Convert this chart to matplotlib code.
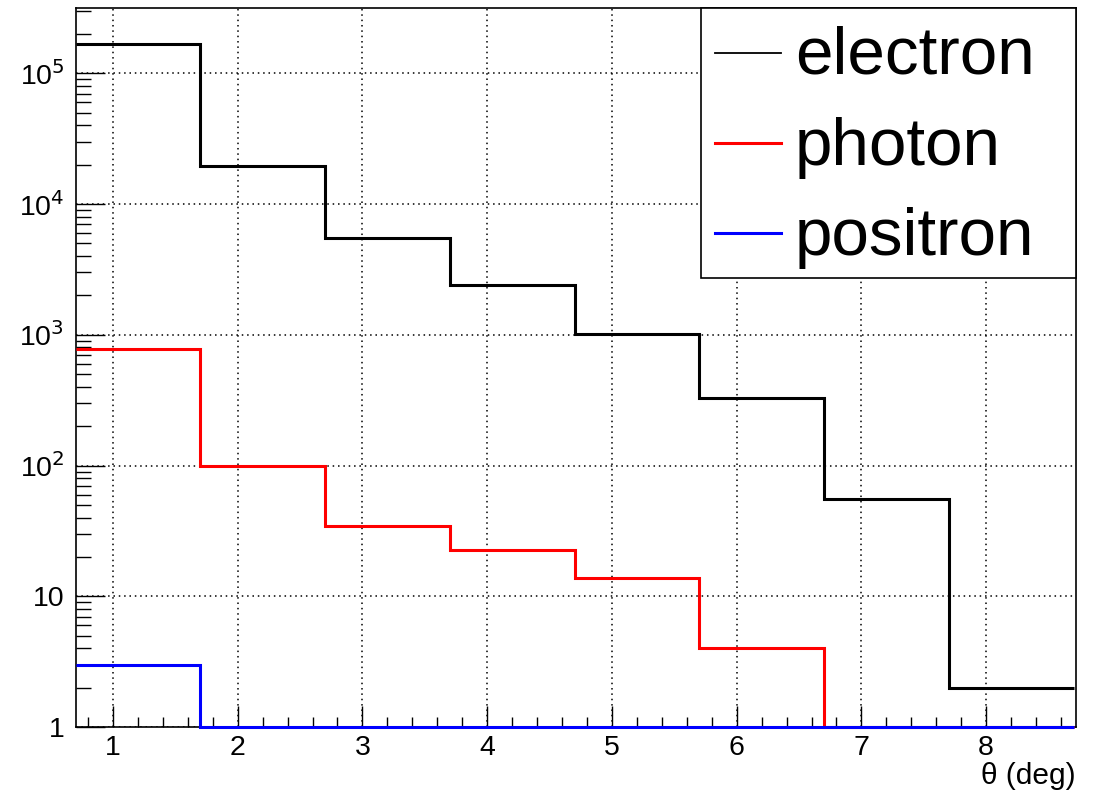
import numpy as np
import matplotlib
matplotlib.use("Agg")
import matplotlib.pyplot as plt
from matplotlib.patches import Rectangle
from matplotlib.lines import Line2D
from matplotlib.ticker import FixedLocator, MultipleLocator, LogLocator, NullFormatter, FuncFormatter

plt.rcParams['font.family'] = ['Liberation Sans', 'DejaVu Sans']
plt.rcParams['mathtext.default'] = 'regular'

bin_edges = [0.7, 1.7, 2.7, 3.7, 4.7, 5.7, 6.7, 7.7, 8.7]
electron = [1.69e5, 1.95e4, 5.55e3, 2.42e3, 1.02e3, 330, 55.5, 2]
photon = [784, 100, 34.6, 22.7, 13.8, 4, 0, 0]
positron = [3, 0, 0, 0, 0, 0, 0, 0]
series_names = ["electron", "photon", "positron"]
series_colors = ["black", "#ff0000", "#0000ff"]
x_label = "θ (deg)"

ymin, ymax = 1.0, 10**5.5

W, H = 1102, 793
fig = plt.figure(figsize=(W / 100, H / 100), dpi=100)
ax_l, ax_r, ax_t, ax_b = 75.5, 1076, 8, 727
ax = fig.add_axes([ax_l / W, 1 - ax_b / H, (ax_r - ax_l) / W, (ax_b - ax_t) / H])

for vals, name, col in zip([electron, photon, positron], series_names, series_colors):
    v = np.array(vals, dtype=float)
    v = np.where(v > 0, v, ymin)
    ax.stairs(v, bin_edges, color=col, lw=2.2, baseline=None, label=name,
              zorder=6, clip_on=False)

ax.set_yscale('log')
ax.set_xlim(0.7, 8.72)
ax.set_ylim(ymin, ymax)

ax.xaxis.set_major_locator(FixedLocator([1, 2, 3, 4, 5, 6, 7, 8]))
ax.xaxis.set_minor_locator(MultipleLocator(0.2))
ax.yaxis.set_major_locator(LogLocator(base=10, numticks=10))
ax.yaxis.set_minor_locator(LogLocator(base=10, subs=np.arange(2, 10), numticks=20))
ax.yaxis.set_minor_formatter(NullFormatter())

def yfmt(v, pos):
    e = int(round(np.log10(v)))
    if e == 0:
        return "1"
    if e == 1:
        return "10"
    return r"$10^{\mathsf{%d}}$" % e
ax.yaxis.set_major_formatter(FuncFormatter(yfmt))

ax.tick_params(axis='x', which='major', direction='in', length=15, width=1, labelsize=20.5, pad=6, top=False)
ax.tick_params(axis='x', which='minor', direction='in', length=7.5, width=1, top=False)
ax.tick_params(axis='y', which='major', direction='in', length=21, width=1, labelsize=20.5, pad=8, right=False)
ax.tick_params(axis='y', which='minor', direction='in', length=11, width=1, right=False)

ax.grid(True, which='major', color='black', linestyle=(0, (1, 2.5)), lw=1.1, zorder=0)
ax.set_axisbelow(True)
for s in ax.spines.values():
    s.set_linewidth(1.2)
    s.set_zorder(4)

ax.text(1.0, -(762 - ax_b) / (ax_b - ax_t), x_label, transform=ax.transAxes,
        ha='right', va='top', fontsize=21.5)

# legend box drawn in pixel positions converted to axes fraction
def fx(px):
    return (px - ax_l) / (ax_r - ax_l)
def fy(py):
    return 1 - (py - ax_t) / (ax_b - ax_t)

ax.add_patch(Rectangle((fx(701), fy(278)), fx(1076) - fx(701), fy(8) - fy(278),
                       transform=ax.transAxes, facecolor='white', edgecolor='black',
                       lw=1.2, zorder=10, clip_on=False))
line_y = [52.5, 143.3, 233.3]
base_y = [74, 165, 255]
leg_lw = [1.3, 2.2, 2.2]
for name, col, ly, by, lw in zip(series_names, series_colors, line_y, base_y, leg_lw):
    ax.add_line(Line2D([fx(715), fx(781)], [fy(ly), fy(ly)], transform=ax.transAxes,
                       color=col, lw=lw, zorder=11, clip_on=False))
    ax.text(fx(795), fy(by), name, transform=ax.transAxes, ha='left', va='baseline',
            fontsize=48.5, zorder=12)

fig.savefig("out.png", dpi=100)
